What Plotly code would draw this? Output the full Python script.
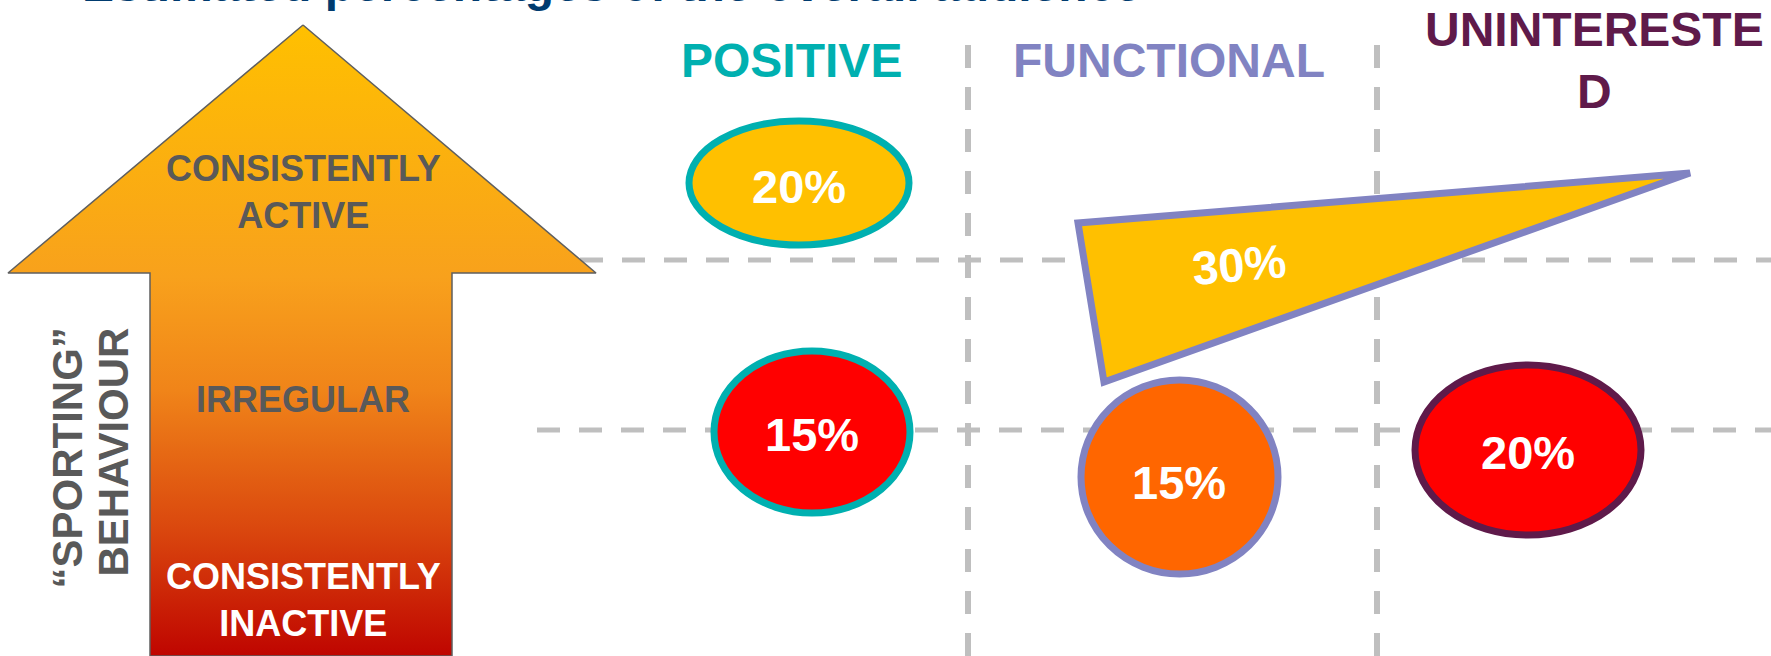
import plotly.graph_objects as go

# ---------------- data ----------------
segments = ["POSITIVE", "FUNCTIONAL", "UNINTERESTED"]
behaviour_levels = ["CONSISTENTLY ACTIVE", "IRREGULAR", "CONSISTENTLY INACTIVE"]

# one entry per audience group
group_segment = ["POSITIVE", "POSITIVE", "FUNCTIONAL", "FUNCTIONAL", "UNINTERESTED"]
group_level = ["CONSISTENTLY ACTIVE", "IRREGULAR", "CONSISTENTLY ACTIVE", "IRREGULAR", "IRREGULAR"]
group_share = [20, 15, 30, 15, 20]

axis_title_lines = ["“SPORTING”", "BEHAVIOUR"]
title_text = "Estimated percentages of the overall audience"

# ---------------- styling / geometry (canvas pixel units) ----------------
W, H = 1771, 656
FONT = "Liberation Sans, Arial, sans-serif"
GRID = "#BFBFBF"
GREY_TXT = "#595959"

segment_color = {"POSITIVE": "#00B0B0", "FUNCTIONAL": "#8183C2", "UNINTERESTED": "#5F1A4A"}
segment_x = {"POSITIVE": 791, "FUNCTIONAL": 1169, "UNINTERESTED": 1594}
header_y = 60
wrap_at = 11  # header text box width in characters

level_label_y = {"CONSISTENTLY ACTIVE": 192, "IRREGULAR": 399, "CONSISTENTLY INACTIVE": 600}
level_label_color = {"CONSISTENTLY ACTIVE": GREY_TXT, "IRREGULAR": GREY_TXT,
                     "CONSISTENTLY INACTIVE": "white"}

# shape for each group: ellipse box (x0, y0, x1, y1) or triangle vertices
group_shape = [
    ("ellipse", (689, 121, 909, 245), "#FFC000"),
    ("ellipse", (714, 351, 910, 513), "#FF0000"),
    ("triangle", [(1078, 223), (1104, 382), (1690, 173)], "#FFC000"),
    ("ellipse", (1081, 380, 1278, 574), "#FF6600"),
    ("ellipse", (1415, 365, 1641, 535), "#FF0000"),
]
group_label_pos = [(799, 186), (812, 434), (1239, 264), (1179, 482), (1528, 452)]
group_label_angle = [0, 0, -5, 0, 0]

# upward arrow outline
arrow_x = [303, 596, 452, 452, 150, 150, 8, 303]
arrow_y = [25, 273, 273, 656, 656, 273, 273, 25]
arrow_scale = [
    [0.0, "#FFC000"],
    [0.40, "#F8A11C"],
    [0.58, "#F08419"],
    [0.80, "#DA470E"],
    [1.0, "#BF0500"],
]

fig = go.Figure()

# gradient arrow
fig.add_trace(go.Scatter(
    x=arrow_x, y=arrow_y, mode="lines",
    line=dict(color="#5F5F5F", width=1.5),
    fill="toself",
    fillgradient=dict(type="vertical", colorscale=arrow_scale, start=25, stop=656),
    hoverinfo="skip", showlegend=False,
))

shapes = []
# dashed quadrant grid
dash = "23px,19px"
for x in (968, 1377):
    shapes.append(dict(type="line", xref="x", yref="y", x0=x, x1=x, y0=45, y1=H,
                       line=dict(color=GRID, width=6, dash=dash), layer="below"))
for x0, y in ((580, 260), (537, 430)):
    shapes.append(dict(type="line", xref="x", yref="y", x0=x0, x1=W + 20, y0=y, y1=y,
                       line=dict(color=GRID, width=5, dash=dash), layer="below"))

# audience group shapes
for seg, (kind, geom, fill) in zip(group_segment, group_shape):
    edge = segment_color[seg]
    if kind == "ellipse":
        x0, y0, x1, y1 = geom
        shapes.append(dict(type="circle", xref="x", yref="y", x0=x0, y0=y0, x1=x1, y1=y1,
                           fillcolor=fill, line=dict(color=edge, width=7), layer="above"))
    else:
        path = "M " + " L ".join(f"{px},{py}" for px, py in geom) + " Z"
        shapes.append(dict(type="path", xref="x", yref="y", path=path,
                           fillcolor=fill, line=dict(color=edge, width=7), layer="above"))

annotations = []


def wrap(text, n):
    return "<br>".join(text[i:i + n] for i in range(0, len(text), n))


# column headers
for seg in segments:
    annotations.append(dict(
        x=segment_x[seg], y=header_y, xref="x", yref="y", text=wrap(seg, wrap_at),
        showarrow=False, xanchor="center", yanchor="middle",
        font=dict(family=FONT, size=48, color=segment_color[seg], weight="bold"),
    ))

# behaviour level labels inside the arrow
for lvl in behaviour_levels:
    words = lvl.split(" ")
    annotations.append(dict(
        x=303, y=level_label_y[lvl], xref="x", yref="y", text="<br>".join(words),
        showarrow=False, xanchor="center", yanchor="middle",
        font=dict(family=FONT, size=36, color=level_label_color[lvl], weight="bold"),
    ))

# vertical axis title, one rotated line per column, top-aligned
for line_text, lx in zip(axis_title_lines, (67, 113)):
    annotations.append(dict(
        x=lx, y=326, xref="x", yref="y", text=line_text, textangle=-90,
        showarrow=False, xanchor="center", yanchor="top",
        font=dict(family=FONT, size=42, color=GREY_TXT, weight="bold"),
    ))

# percentage labels
for share, (lx, ly), ang in zip(group_share, group_label_pos, group_label_angle):
    annotations.append(dict(
        x=lx, y=ly, xref="x", yref="y", text=f"{share}%", textangle=ang,
        showarrow=False, xanchor="center", yanchor="middle",
        font=dict(family=FONT, size=47, color="white", weight="bold"),
    ))

# heading running off the top edge
annotations.append(dict(
    x=80, y=13, xref="x", yref="y", text=title_text,
    showarrow=False, xanchor="left", yanchor="bottom",
    font=dict(family=FONT, size=48, color="#003B6F", weight="bold"),
))

fig.update_layout(
    width=W, height=H,
    margin=dict(l=0, r=0, t=0, b=0, pad=0),
    paper_bgcolor="white", plot_bgcolor="white",
    xaxis=dict(range=[0, W], visible=False, fixedrange=True),
    yaxis=dict(range=[H, 0], visible=False, fixedrange=True),
    shapes=shapes, annotations=annotations,
    showlegend=False,
)

fig.write_html("out.html")
